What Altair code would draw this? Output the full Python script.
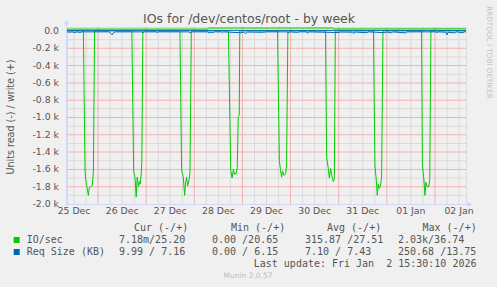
import altair as alt
import pandas as pd

GREEN = "#00CC00"
BLUE = "#0066B3"
AXIS = "#CFD6F8"
FONT_C = "#555555"

# ---------------- data ----------------
# IO/sec, read (plotted below zero), reads per second
read_times = [
    "2025-12-25 08:30",
    "2025-12-25 16:40", "2025-12-25 17:30", "2025-12-25 17:50", "2025-12-25 18:40", "2025-12-25 19:10",
    "2025-12-25 19:40", "2025-12-25 20:10", "2025-12-25 21:00", "2025-12-25 21:20", "2025-12-25 21:40",
    "2025-12-25 22:15",
    "2025-12-26 16:50", "2025-12-26 17:45", "2025-12-26 18:30", "2025-12-26 19:00", "2025-12-26 19:30",
    "2025-12-26 20:10", "2025-12-26 20:40", "2025-12-26 21:00", "2025-12-26 21:30", "2025-12-26 21:50",
    "2025-12-26 22:20",
    "2025-12-27 16:50", "2025-12-27 17:40", "2025-12-27 18:30", "2025-12-27 19:10", "2025-12-27 19:40",
    "2025-12-27 20:10", "2025-12-27 20:40", "2025-12-27 21:20", "2025-12-27 21:50", "2025-12-27 22:30",
    "2025-12-28 17:00", "2025-12-28 18:10", "2025-12-28 18:50", "2025-12-28 19:30", "2025-12-28 19:55",
    "2025-12-28 20:20", "2025-12-28 20:50", "2025-12-28 21:25", "2025-12-28 21:55", "2025-12-28 22:25",
    "2025-12-28 22:40",
    "2025-12-29 17:30", "2025-12-29 18:25", "2025-12-29 19:00", "2025-12-29 19:30", "2025-12-29 20:00",
    "2025-12-29 20:45", "2025-12-29 21:30", "2025-12-29 22:00", "2025-12-29 22:40",
    "2025-12-30 17:25", "2025-12-30 18:00", "2025-12-30 18:50", "2025-12-30 19:20", "2025-12-30 20:00",
    "2025-12-30 20:30", "2025-12-30 21:20", "2025-12-30 21:50", "2025-12-30 22:20",
    "2025-12-31 17:20", "2025-12-31 18:05", "2025-12-31 18:50", "2025-12-31 19:15", "2025-12-31 19:45",
    "2025-12-31 20:15", "2025-12-31 20:55", "2025-12-31 21:25", "2025-12-31 22:05",
    "2026-01-01 17:20", "2026-01-01 17:45", "2026-01-01 18:30", "2026-01-01 19:00", "2026-01-01 19:30",
    "2026-01-01 20:10", "2026-01-01 20:55", "2026-01-01 21:25", "2026-01-01 22:00",
    "2026-01-02 15:30",
]
read_vals = [
    0,
    0, 1610, 1720, 1830, 1900, 1810, 1800, 1790, 1720, 1620, 0,
    0, 1620, 1710, 1920, 1690, 1800, 1740, 1770, 1660, 1500, 0,
    0, 1610, 1690, 1900, 1750, 1690, 1790, 1730, 1640, 0,
    0, 1610, 1700, 1600, 1660, 1640, 1650, 1580, 990, 970, 0,
    0, 1500, 1610, 1690, 1620, 1670, 1650, 1560, 0,
    0, 1460, 1590, 1700, 1590, 1670, 1740, 1710, 0,
    0, 1560, 1740, 1900, 1770, 1820, 1780, 1690, 0,
    0, 1550, 1720, 1900, 1750, 1800, 1800, 1720, 0,
    0,
]

# IO/sec, write (plotted above zero)
write_times = ["2025-12-25 08:30", "2025-12-28 06:30", "2025-12-28 07:00",
               "2025-12-30 21:00", "2025-12-30 21:30", "2026-01-02 15:30"]
write_vals = [22, 22, 34, 34, 24, 25]

# Req Size (KB), read (plotted below zero)
reqr_times = [
    "2025-12-25 08:30", "2025-12-25 10:00", "2025-12-25 11:00", "2025-12-25 12:30", "2025-12-25 13:30",
    "2025-12-25 15:00", "2025-12-25 16:00", "2025-12-26 05:30", "2025-12-26 06:30", "2025-12-26 07:00",
    "2025-12-26 07:30", "2025-12-26 08:30", "2025-12-26 22:00", "2025-12-26 22:30", "2025-12-26 23:00",
    "2025-12-27 05:00", "2025-12-27 05:30", "2025-12-27 06:00", "2025-12-27 21:30", "2025-12-27 22:00",
    "2025-12-27 22:30", "2025-12-28 06:30", "2025-12-28 07:30", "2025-12-28 08:30", "2025-12-28 09:30",
    "2025-12-28 10:00", "2025-12-28 13:30", "2025-12-28 14:00", "2025-12-28 14:30", "2025-12-28 23:00",
    "2025-12-29 00:30", "2025-12-29 01:30", "2025-12-29 02:30", "2025-12-29 10:00", "2025-12-29 12:00",
    "2025-12-29 22:30", "2025-12-29 23:00", "2025-12-29 23:30", "2025-12-30 03:30", "2025-12-30 04:30",
    "2025-12-30 08:00", "2025-12-30 08:30", "2025-12-30 09:00", "2025-12-31 00:00", "2025-12-31 01:00",
    "2025-12-31 07:00", "2025-12-31 07:30", "2025-12-31 08:00", "2025-12-31 14:00", "2025-12-31 15:00",
    "2025-12-31 23:00", "2026-01-01 00:00", "2026-01-01 02:30", "2026-01-01 03:00", "2026-01-01 09:30",
    "2026-01-01 10:00", "2026-01-02 00:30", "2026-01-02 01:00", "2026-01-02 01:30", "2026-01-02 05:30",
    "2026-01-02 06:00", "2026-01-02 06:30", "2026-01-02 10:00", "2026-01-02 10:30", "2026-01-02 14:00",
    "2026-01-02 14:30", "2026-01-02 15:30",
]
reqr_vals = [
    10, 14, 10, 18, 10,
    16, 10, 10, 30, 45,
    25, 10, 10, 22, 10,
    10, 20, 10, 10, 25,
    10, 10, 22, 14, 20,
    10, 10, 20, 10, 20,
    14, 28, 12, 15, 10,
    10, 25, 10, 16, 10,
    10, 26, 10, 18, 12,
    14, 30, 12, 20, 10,
    20, 12, 22, 10, 22,
    10, 10, 20, 10, 14,
    45, 14, 22, 10, 20,
    10, 10,
]

# Req Size (KB), write (plotted above zero)
reqw_times = ["2025-12-25 08:30", "2026-01-02 15:30"]
reqw_vals = [7, 7]

# axis extent, ticks and grid
y_range = [-2000, 46]
y_ticks = [0, -200, -400, -600, -800, -1000, -1200, -1400, -1600, -1800, -2000]
y_minor = [-100, -300, -500, -700, -900, -1100, -1300, -1500, -1700, -1900]
x_tick_times = ["2025-12-25 12:00", "2025-12-26 12:00", "2025-12-27 12:00", "2025-12-28 12:00",
                "2025-12-29 12:00", "2025-12-30 12:00", "2025-12-31 12:00", "2026-01-01 12:00",
                "2026-01-02 12:00"]
x_tick_labels = ["25 Dec", "26 Dec", "27 Dec", "28 Dec", "29 Dec", "30 Dec", "31 Dec", "01 Jan", "02 Jan"]
grid_minor_times = [
    "2025-12-25 12:00", "2025-12-25 18:00", "2025-12-26 06:00", "2025-12-26 12:00", "2025-12-26 18:00",
    "2025-12-27 06:00", "2025-12-27 12:00", "2025-12-27 18:00", "2025-12-28 06:00", "2025-12-28 12:00",
    "2025-12-28 18:00", "2025-12-29 06:00", "2025-12-29 12:00", "2025-12-29 18:00", "2025-12-30 06:00",
    "2025-12-30 12:00", "2025-12-30 18:00", "2025-12-31 06:00", "2025-12-31 12:00", "2025-12-31 18:00",
    "2026-01-01 06:00", "2026-01-01 12:00", "2026-01-01 18:00", "2026-01-02 06:00", "2026-01-02 12:00",
]
grid_major_times = ["2025-12-26 00:00", "2025-12-27 00:00", "2025-12-28 00:00", "2025-12-29 00:00",
                    "2025-12-30 00:00", "2025-12-31 00:00", "2026-01-01 00:00", "2026-01-02 00:00"]

# legend texts
legend_header = ["Cur (-/+)", "Min (-/+)", "Avg (-/+)", "Max (-/+)"]
io_stats = ["  7.18m/25.20", "  0.00 /20.65", "315.87 /27.51", "  2.03k/36.74"]
req_stats = ["  9.99 / 7.16", "  0.00 / 6.15", "  7.10 / 7.43", "250.68 /13.75"]

# ---------------- frames ----------------
io = pd.concat([
    pd.DataFrame({"t": read_times, "v": [-x for x in read_vals], "line": "read"}),
    pd.DataFrame({"t": write_times, "v": write_vals, "line": "write"}),
])
req = pd.concat([
    pd.DataFrame({"t": reqr_times, "v": [-x for x in reqr_vals], "line": "read"}),
    pd.DataFrame({"t": reqw_times, "v": reqw_vals, "line": "write"}),
])
vmajor = pd.DataFrame({"t": grid_major_times})
vminor = pd.DataFrame({"t": grid_minor_times})
hmajor = pd.DataFrame({"v": y_ticks[1:-1]})
hminor = pd.DataFrame({"v": y_minor})
ylab = pd.DataFrame({"v": y_ticks})
xlab = pd.DataFrame({"t": x_tick_times, "lab": x_tick_labels})

xscale = alt.Scale(domain=[alt.DateTime(year=2025, month=12, date=25, hours=8, minutes=30),
                           alt.DateTime(year=2026, month=1, date=2, hours=15, minutes=30)])
yscale = alt.Scale(domain=y_range, nice=False, zero=False)

W, H = 399, 177
OX, OY = 67, 27  # plot origin on the page

X = lambda: alt.X("t:T", scale=xscale, axis=None)
Y = lambda: alt.Y("v:Q", scale=yscale, axis=None)

one = alt.Data(values=[{"a": 1}])


def txt(text, px, py, size, color=FONT_C, font="DejaVu Sans", align="left", angle=0,
        baseline="alphabetic"):
    return alt.Chart(alt.Data(values=[{"s": text.replace(" ", "\u00a0")}])).mark_text(
        align=align, baseline=baseline, font=font, fontSize=size, color=color, angle=angle
    ).encode(x=alt.value(px - OX), y=alt.value(py - OY), text="s:N")


# dotted grid of the original approximated with thin light lines
MINOR_C = "#dadada"
MAJOR_C = "#f2b0b0"
g_vminor = alt.Chart(vminor).mark_tick(color=MINOR_C, thickness=1, orient="vertical", size=H,
                                       opacity=1).encode(x=X(), y=alt.value(H / 2))
g_vmajor = alt.Chart(vmajor).mark_tick(color=MAJOR_C, thickness=1, orient="vertical", size=H,
                                       opacity=1).encode(x=X(), y=alt.value(H / 2))
g_hminor = alt.Chart(hminor).mark_tick(color=MINOR_C, thickness=1, orient="horizontal", size=W,
                                       opacity=1).encode(y=Y(), x=alt.value(W / 2))
g_hmajor = alt.Chart(hmajor).mark_tick(color=MAJOR_C, thickness=1, orient="horizontal", size=W,
                                       opacity=1).encode(y=Y(), x=alt.value(W / 2))

io_lines = alt.Chart(io).mark_line(color=GREEN, strokeWidth=1, clip=True).encode(
    x=X(), y=Y(), detail="line:N")
req_lines = alt.Chart(req).mark_line(color=BLUE, strokeWidth=1, clip=True).encode(
    x=X(), y=Y(), detail="line:N")

y_labels = alt.Chart(ylab).transform_calculate(
    lab="datum.v == 0 ? '0.0\u00a0\u00a0' : '-' + format(abs(datum.v)/1000, '.1f') + '\u00a0k'"
).mark_text(align="right", baseline="middle", font="DejaVu Sans", fontSize=9.3, color=FONT_C).encode(
    x=alt.value(-8), y=Y(), text="lab:N")
x_labels = alt.Chart(xlab).mark_text(align="center", baseline="top", font="DejaVu Sans", fontSize=9.3,
                                     color=FONT_C).encode(
    x=X(), y=alt.value(H + 2.5), text="lab:N")

yaxis_line = alt.Chart(one).mark_rect(color=AXIS, opacity=1).encode(
    x=alt.value(-1), x2=alt.value(0), y=alt.value(-5), y2=alt.value(H + 1))
xaxis_line = alt.Chart(one).mark_rect(color=AXIS, opacity=1).encode(
    x=alt.value(-1), x2=alt.value(W + 4), y=alt.value(H), y2=alt.value(H + 1))
arrow_up = alt.Chart(one).mark_point(shape="triangle-up", filled=True, color=AXIS, size=28, opacity=1).encode(
    x=alt.value(-0.5), y=alt.value(-5))
arrow_right = alt.Chart(one).mark_point(shape="triangle-right", filled=True, color=AXIS, size=28,
                                        opacity=1).encode(x=alt.value(W + 4), y=alt.value(H + 0.5))

sq_green = alt.Chart(one).mark_square(filled=True, color=GREEN, size=36, opacity=1).encode(
    x=alt.value(16.7 - OX), y=alt.value(240 - OY))
sq_blue = alt.Chart(one).mark_square(filled=True, color=BLUE, size=36, opacity=1).encode(
    x=alt.value(16.7 - OX), y=alt.value(252 - OY))

MONO = "DejaVu Sans Mono"
texts = [
    txt("IOs for /dev/centos/root - by week", 249, 22.5, 12.5, align="center"),
    txt("Units read (-) / write (+)", 11, 117, 9.6, align="center", angle=270, baseline="middle"),
    txt("RRDTOOL / TOBI OETIKER", 488.5, 52.5, 7.2, color="#c4c4c4", align="center", angle=90,
        baseline="middle"),
    txt("Munin 2.0.57", 248, 278, 7.5, color="#bdbdbd", align="center"),
    txt("IO/sec", 26.7, 242.5, 10, font=MONO),
    txt("Req Size (KB)", 26.7, 254.5, 10, font=MONO),
    txt("Last update: Fri Jan  2 15:30:10 2026", 476.5, 266.5, 10, font=MONO, align="right"),
]
for s, px in zip(legend_header, [134, 231, 327, 422.5]):
    texts.append(txt(s, px, 230.5, 10, font=MONO))
for s, px in zip(io_stats, [119, 212, 305, 398]):
    texts.append(txt(s, px, 242.5, 10, font=MONO))
for s, px in zip(req_stats, [119, 212, 305, 398]):
    texts.append(txt(s, px, 254.5, 10, font=MONO))

chart = alt.layer(
    g_hminor, g_vminor, g_hmajor, g_vmajor, io_lines, req_lines, y_labels, x_labels,
    yaxis_line, xaxis_line, arrow_up, arrow_right, sq_green, sq_blue, *texts
).properties(
    width=W, height=H,
    autosize=alt.AutoSizeParams(type="none"),
    padding={"left": OX, "top": OY, "right": 497 - OX - W, "bottom": 287 - OY - H},
    background="#F0F0F0",
).configure_view(fill="#FFFFFF", stroke="transparent").configure(font="DejaVu Sans")

chart.save("out.html", embed_options={"renderer": "svg", "actions": False})
